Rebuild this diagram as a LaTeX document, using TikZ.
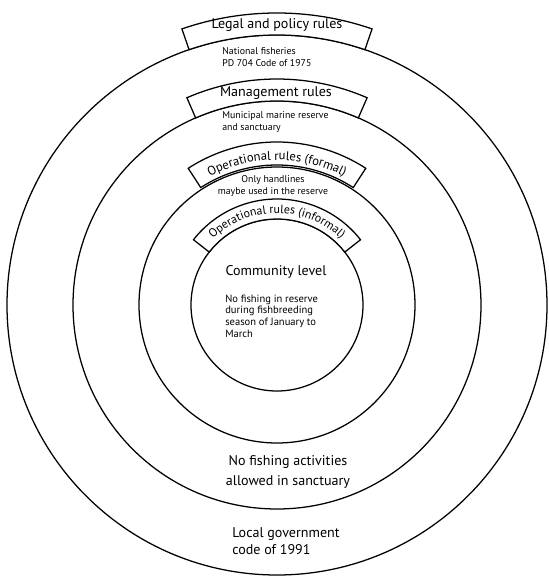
\documentclass[tikz,border=0pt]{standalone}
\usepackage{fontspec}
\setmainfont{PT Sans}
\usepackage{tikz}
\usetikzlibrary{positioning, decorations.text}

\begin{document}
\begin{tikzpicture}[%
    x=0.025cm, y=0.025cm,   % one unit = one pixel of the reference
    ring/.style={line width=0.9pt},
    banner/.style={draw, line width=0.9pt, fill=white},
    title/.style={font=\fontsize{10}{12}\selectfont},
    note/.style={font=\fontsize{7}{8.5}\selectfont, align=left, inner sep=0pt},
    inner/.style={font=\fontsize{7.5}{8.3}\selectfont, align=left, inner sep=0pt},
    outer/.style={font=\fontsize{10}{14.5}\selectfont, align=center, inner sep=0pt},
    curved/.style 2 args={decorate, decoration={text along path, text align=center,
        text={|\fontsize{#1}{10}\selectfont|#2}}}
]
    \useasboundingbox (-277,-275) rectangle (271,305);

    % ==========================================
    % 1. Rings - the four levels of rules
    % ==========================================
    \coordinate (ctr) at (0,0);
    \draw[ring] (ctr) circle[radius=270];
    \draw[ring] (ctr) circle[radius=204];
    \draw[ring] (ctr) circle[radius=138];
    \draw[ring] (ctr) circle[radius=86];

    % ==========================================
    % 2. Banners sitting on top of each ring
    % ==========================================
    % Legal and policy
    \draw[banner] (71:270) arc[start angle=71, end angle=109, radius=270]
        -- (109:292) arc[start angle=109, end angle=71, radius=292] -- cycle;
    % Management
    \draw[banner] (66.5:204) arc[start angle=66.5, end angle=113.5, radius=204]
        -- (113.5:226) arc[start angle=113.5, end angle=66.5, radius=226] -- cycle;
    % Operational (formal)
    \draw[banner] (57:140) arc[start angle=57, end angle=123, radius=140]
        -- (123:163) arc[start angle=123, end angle=57, radius=163] -- cycle;
    % Operational (informal)
    \draw[banner] (38:86) arc[start angle=38, end angle=142, radius=86]
        -- (142:106) arc[start angle=142, end angle=38, radius=106] -- cycle;

    % ==========================================
    % 3. Texts
    % ==========================================
    \node[title] (legal) at (0,280) {Legal and policy rules};
    \node[note, anchor=west] (national) at (-55,248) {National fisheries\\PD 704 Code of 1975};

    \node[title] (mgmt) at (-1,212) {Management rules};
    \node[note, anchor=west] (municipal) at (-55,183) {Municipal marine reserve\\and sanctuary};

    % curved banner texts
    \path[curved={9}{Operational rules (formal)}] (123:145) arc[start angle=123, end angle=57, radius=145];
    \node[note, align=center] (handlines) at (-4,119) {Only handlines\\maybe used in the reserve};

    \path[curved={8.5}{Operational rules (informal)}] (141:92) arc[start angle=141, end angle=39, radius=92];

    \node[title] (community) at (-1,33) {Community level};
    \node[inner, anchor=west] (breeding) at (-52,-11)
        {No fishing in reserve\\during fishbreeding\\season of January to\\March};

    \node[outer] (sanctuary) at (11,-167) {No fishing activities\\allowed in sanctuary};
    \node[outer, align=left, anchor=west, font=\fontsize{10}{12}\selectfont] (lgc) at (-45,-236)
        {Local government\\code of 1991};

\end{tikzpicture}
\end{document}
